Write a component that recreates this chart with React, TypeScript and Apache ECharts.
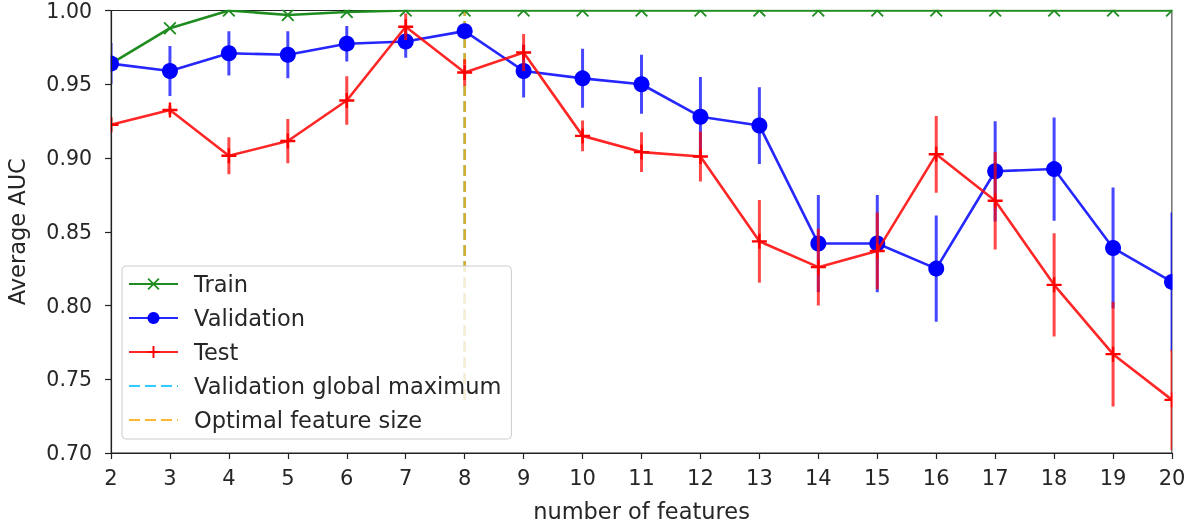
import React, { useEffect, useRef } from "react";
import * as echarts from "echarts";

const features = [2, 3, 4, 5, 6, 7, 8, 9, 10, 11, 12, 13, 14, 15, 16, 17, 18, 19, 20];
const trainAUC = [0.964, 0.988, 1.0, 0.997, 0.999, 1.0, 1.0, 1.0, 1.0, 1.0, 1.0, 1.0, 1.0, 1.0, 1.0, 1.0, 1.0, 1.0, 1.0];
const valAUC = [0.964, 0.959, 0.971, 0.970, 0.9775, 0.979, 0.986, 0.959, 0.954, 0.950, 0.928, 0.922, 0.842, 0.842, 0.825, 0.891, 0.8925, 0.839, 0.816];
const valErr = [0.014, 0.017, 0.015, 0.016, 0.012, 0.011, 0.005, 0.018, 0.020, 0.020, 0.027, 0.026, 0.033, 0.033, 0.036, 0.034, 0.035, 0.041, 0.047];
const testAUC = [0.9225, 0.9325, 0.9015, 0.9115, 0.939, 0.989, 0.958, 0.9715, 0.915, 0.904, 0.901, 0.8435, 0.826, 0.837, 0.9025, 0.871, 0.814, 0.767, 0.736];
const testErr = [0.005, 0.003, 0.0125, 0.015, 0.0165, 0.009, 0.009, 0.0125, 0.0105, 0.0135, 0.017, 0.028, 0.026, 0.026, 0.026, 0.033, 0.035, 0.0355, 0.034];
const optimalFeature = 8;
const vlineRange = [0.736, 1.0];
const markerLegend = ["Train", "Validation", "Test"];
const dashLegend = ["Validation global maximum", "Optimal feature size"];

const FONT = "DejaVu Sans";
const TEXT = "#262626";
const PLUS = "path://M0,4.2H10V5.8H0Z M4.2,0H5.8V10H4.2Z";
const CROSS = "path://M0,1 L1,0 L10,9 L9,10 Z M9,0 L10,1 L1,10 L0,9 Z";

function errSeries(name: string, means: number[], errs: number[], color: string, z: number) {
  return {
    name,
    type: "custom",
    z,
    clip: true,
    data: features.map((f, i) => [f, means[i] - errs[i], means[i] + errs[i]]),
    renderItem: (params: any, api: any) => {
      const x = api.value(0);
      const lo = api.coord([x, api.value(1)]);
      const hi = api.coord([x, api.value(2)]);
      return {
        type: "line",
        shape: { x1: lo[0], y1: lo[1], x2: hi[0], y2: hi[1] },
        style: { stroke: color, lineWidth: 3 },
      };
    },
  };
}

export default function App() {
  const ref = useRef<HTMLDivElement>(null);
  useEffect(() => {
    if (!ref.current) return;
    const chart = echarts.init(ref.current, undefined, { renderer: "svg" });
    const option: any = {
      animation: false,
      textStyle: { fontFamily: FONT },
      grid: {
        left: 111, top: 10.5, right: 23, bottom: 75,
        outerBoundsMode: "none", containLabel: false,
        show: true, borderColor: "#222", borderWidth: 1.2, backgroundColor: "transparent",
      },
      xAxis: {
        type: "value",
        min: 2,
        max: 20,
        interval: 1,
        z: 10,
        name: "number of features",
        nameLocation: "middle",
        nameGap: 46,
        nameTextStyle: { fontSize: 22.5, color: TEXT, fontFamily: FONT },
        axisLine: { show: true, lineStyle: { color: "#222", width: 1.2 } },
        axisTick: { show: true, length: 6, lineStyle: { color: "#222", width: 1.2 } },
        axisLabel: { fontSize: 21, color: TEXT, margin: 14, fontFamily: FONT },
        splitLine: { show: false },
      },
      yAxis: {
        type: "value",
        min: 0.7,
        max: 1.0,
        interval: 0.05,
        z: 10,
        name: "Average AUC",
        nameLocation: "middle",
        nameGap: 83,
        nameRotate: 90,
        nameTextStyle: { fontSize: 22.5, color: TEXT, fontFamily: FONT },
        axisLine: { show: true, lineStyle: { color: "#222", width: 1.2 } },
        axisTick: { show: true, length: 6, lineStyle: { color: "#222", width: 1.2 } },
        axisLabel: { fontSize: 20.5, lineHeight: 20, color: TEXT, margin: 19, fontFamily: FONT, formatter: (v: number) => v.toFixed(2) },
        splitLine: { show: false },
      },
      legend: {
        data: [
          ...markerLegend.map((n) => ({ name: n })),
          ...dashLegend.map((n) => ({ name: n, itemStyle: { opacity: 0 } })),
        ],
        orient: "vertical",
        left: 122,
        top: 266,
        z: 20,
        padding: [6, 10, 7, 6],
        itemGap: 10,
        itemWidth: 49,
        itemHeight: 15,
        backgroundColor: "rgba(255,255,255,0.8)",
        borderColor: "#cccccc",
        borderWidth: 1,
        borderRadius: 4,
        selectedMode: false,
        textStyle: { fontSize: 22.5, color: TEXT, fontFamily: FONT, lineHeight: 24, padding: [0, 0, 0, 11] },
      },
      graphic: [
        { type: "rect", z: 5, silent: true, shape: { x: 0, y: 0, width: 1195, height: 9.8 }, style: { fill: "#fff" } },
        { type: "rect", z: 5, silent: true, shape: { x: 0, y: 0, width: 110.4, height: 528 }, style: { fill: "#fff" } },
        { type: "rect", z: 5, silent: true, shape: { x: 1172.6, y: 0, width: 30, height: 528 }, style: { fill: "#fff" } },
        { type: "rect", z: 5, silent: true, shape: { x: 0, y: 453.6, width: 1195, height: 80 }, style: { fill: "#fff" } },
      ],
      series: [
        {
          name: dashLegend[0],
          type: "line",
          z: 1,
          symbol: "none",
          data: [[optimalFeature, vlineRange[0]], [optimalFeature, vlineRange[1]]],
          lineStyle: { color: "#00bfff", width: 2.6, type: [11, 5], opacity: 0.8 },
          itemStyle: { color: "#33ccff" },
        },
        {
          name: dashLegend[1],
          type: "line",
          z: 1.5,
          symbol: "none",
          data: [[optimalFeature, vlineRange[0]], [optimalFeature, vlineRange[1]]],
          lineStyle: { color: "#ffa500", width: 2.6, type: [11, 5], opacity: 0.8 },
          itemStyle: { color: "#ffb733" },
        },
        {
          name: "Train",
          type: "line",
          z: 2.5,
          data: features.map((f, i) => [f, trainAUC[i]]),
          symbol: CROSS,
          symbolSize: 13,
          showAllSymbol: true,
          lineStyle: { color: "#1f8c1f", width: 2.6 },
          itemStyle: { color: "#1f8c1f" },
        },
        errSeries("valErr", valAUC, valErr, "rgba(0,0,255,0.72)", 3),
        {
          name: "Validation",
          type: "line",
          z: 3.5,
          data: features.map((f, i) => [f, valAUC[i]]),
          symbol: "circle",
          symbolSize: 16,
          showAllSymbol: true,
          lineStyle: { color: "#0000ff", width: 2.6, opacity: 0.85 },
          itemStyle: { color: "#0000ff" },
        },
        errSeries("testErr", testAUC, testErr, "rgba(255,0,0,0.72)", 4),
        {
          name: "Test",
          type: "line",
          z: 4.5,
          data: features.map((f, i) => [f, testAUC[i]]),
          symbol: PLUS,
          symbolSize: 15,
          showAllSymbol: true,
          lineStyle: { color: "#ff0000", width: 2.6, opacity: 0.85 },
          itemStyle: { color: "#ff0000" },
        },
      ],
    };
    chart.setOption(option);
    return () => chart.dispose();
  }, []);
  return <div ref={ref} style={{ position: "fixed", left: 0, top: 0, width: 1195, height: 528 }} />;
}
